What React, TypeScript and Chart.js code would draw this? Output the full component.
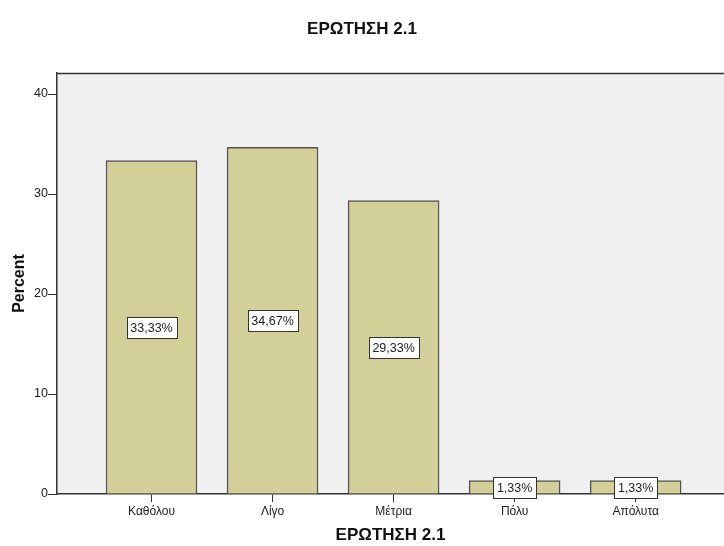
import React, { useEffect, useRef } from "react";
import { Chart, registerables } from "chart.js";

Chart.register(...registerables);

const categories = ["Καθόλου", "Λίγο", "Μέτρια", "Πόλυ", "Απόλυτα"];
const percentValues = [33.33, 34.67, 29.33, 1.33, 1.33];
const barLabels = ["33,33%", "34,67%", "29,33%", "1,33%", "1,33%"];
const yTicks = [0, 10, 20, 30, 40];
const chartTitle = "ΕΡΩΤΗΣΗ 2.1";
const xTitle = "ΕΡΩΤΗΣΗ 2.1";
const yTitle = "Percent";

const FONT = "'Liberation Sans', Arial, sans-serif";

const decorPlugin = {
  id: "decor",
  beforeDraw(chart: any) {
    const { ctx, chartArea } = chart;
    ctx.save();
    ctx.fillStyle = "#F0F0F0";
    ctx.fillRect(chartArea.left, chartArea.top, chartArea.right - chartArea.left, chartArea.bottom - chartArea.top);
    ctx.restore();
  },
  afterDraw(chart: any) {
    const { ctx, chartArea } = chart;
    ctx.save();
    ctx.strokeStyle = "#333333";
    ctx.lineWidth = 1.5;
    ctx.beginPath();
    ctx.moveTo(chartArea.left, chartArea.top + 0.5);
    ctx.lineTo(chartArea.right, chartArea.top + 0.5);
    ctx.stroke();
    ctx.fillStyle = "#111111";
    ctx.font = `bold 17px ${FONT}`;
    ctx.textAlign = "center";
    ctx.textBaseline = "middle";
    ctx.fillText(chartTitle, chart.width / 2, 29);
    ctx.restore();
  },
  afterDatasetsDraw(chart: any) {
    const { ctx } = chart;
    const meta = chart.getDatasetMeta(0);
    ctx.save();
    ctx.font = `12.5px ${FONT}`;
    ctx.textAlign = "center";
    ctx.textBaseline = "middle";
    meta.data.forEach((bar: any, i: number) => {
      const label = barLabels[i];
      const cy = (bar.y + bar.base) / 2;
      const tw = ctx.measureText(label).width;
      const w = Math.round(tw + 8);
      const h = 21;
      const x0 = Math.round(bar.x - w / 2) + 0.5;
      const y0 = Math.round(cy - h / 2) + 0.5;
      ctx.fillStyle = "#FFFFFF";
      ctx.fillRect(x0, y0, w, h);
      ctx.strokeStyle = "#333333";
      ctx.lineWidth = 1;
      ctx.strokeRect(x0, y0, w, h);
      ctx.fillStyle = "#222222";
      ctx.fillText(label, bar.x, cy + 1);
    });
    ctx.restore();
  },
};

export default function App() {
  const ref = useRef<HTMLCanvasElement | null>(null);
  useEffect(() => {
    if (!ref.current) return;
    const chart = new Chart(ref.current, {
      type: "bar",
      data: {
        datasets: [
          {
            data: percentValues.map((v, i) => ({ x: i, y: v })),
            backgroundColor: "#D3CF98",
            borderColor: "#555555",
            borderWidth: 1.5,
            barThickness: 91,
          },
        ],
      },
      options: {
        animation: false,
        responsive: false,
        layout: { padding: { top: 73, left: 10, right: 0, bottom: 0 } },
        plugins: {
          legend: { display: false },
          tooltip: { enabled: false },
          title: { display: false },
        },
        scales: {
          x: {
            type: "linear",
            offset: false,
            min: -0.781,
            max: 4.73,
            afterBuildTicks: (scale: any) => {
              scale.ticks = categories.map((_, i) => ({ value: i }));
            },
            afterFit: (scale: any) => {
              scale.height = 52;
            },
            ticks: {
              autoSkip: false,
              maxRotation: 0,
              padding: 2,
              color: "#222222",
              font: { family: FONT, size: 12 },
              callback: (v: any) => categories[v as number] ?? "",
            },
            grid: { offset: false, drawOnChartArea: false, drawTicks: true, tickLength: 8, color: "#333333", lineWidth: 1 },
            border: { display: true, color: "#333333", width: 1.5 },
            title: {
              display: true,
              text: xTitle,
              color: "#111111",
              font: { family: FONT, size: 17, weight: "bold" },
              padding: { top: 6, bottom: 0 },
            },
          },
          y: {
            min: 0,
            max: 42.1,
            afterBuildTicks: (scale: any) => {
              scale.ticks = yTicks.map((v) => ({ value: v }));
            },
            afterFit: (scale: any) => {
              scale.width = 47;
            },
            ticks: {
              padding: 0,
              color: "#222222",
              font: { family: FONT, size: 12.5 },
            },
            grid: { drawOnChartArea: false, drawTicks: true, tickLength: 9, color: "#333333", lineWidth: 1 },
            border: { display: true, color: "#333333", width: 1.5 },
            title: {
              display: true,
              text: yTitle,
              color: "#111111",
              font: { family: FONT, size: 16, weight: "bold" },
              padding: { top: 0, bottom: 0 },
            },
          },
        },
      },
      plugins: [decorPlugin],
    });
    return () => chart.destroy();
  }, []);
  return (
    <div style={{ position: "fixed", left: 0, top: 0, width: 724, height: 546, background: "#FFFFFF" }}>
      <canvas ref={ref} width={724} height={546} style={{ width: 724, height: 546, display: "block" }} />
    </div>
  );
}
